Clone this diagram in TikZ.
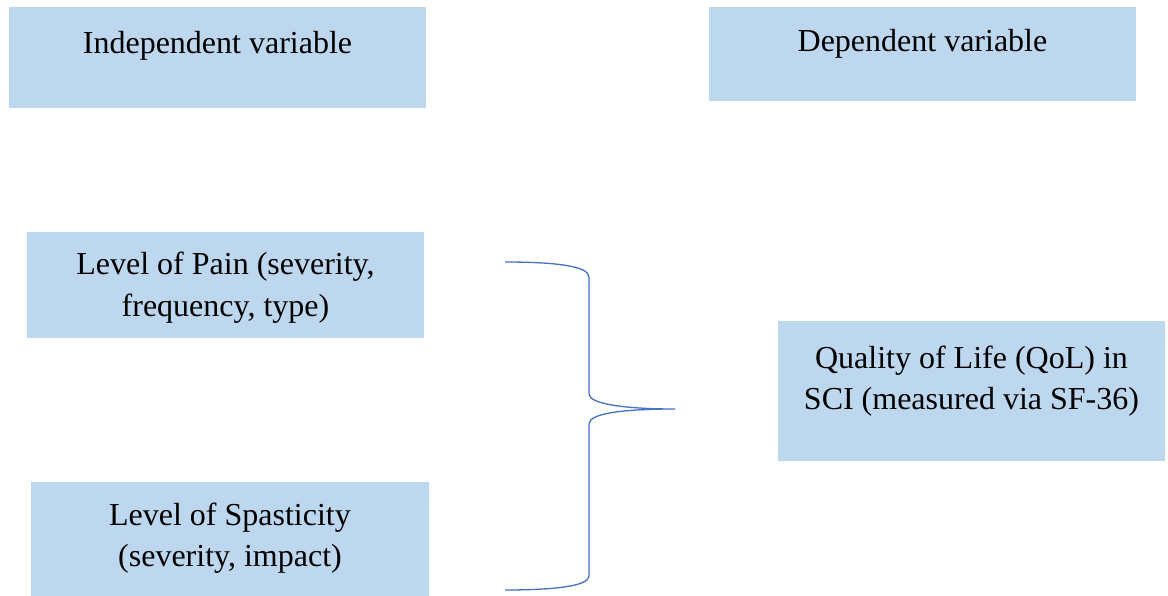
\documentclass[tikz,border=0pt]{standalone}
\usepackage{fontspec}
\setmainfont{Liberation Serif}
\definecolor{boxblue}{HTML}{BDD7EE}
\definecolor{braceblue}{HTML}{4472C4}

\begin{document}
\begin{tikzpicture}[x=1pt,y=-1pt]
\tikzset{VarStyle/.style =
		{shape = rectangle,
		fill = boxblue,
		inner sep = 0pt,
		align = flush center,
		anchor = base,
		font = \fontsize{32}{41.7}\selectfont,
		text = black},
	BraceStyle/.style =
		{draw = braceblue,
		line width = 1.3pt}}
	\useasboundingbox (0,0) rectangle (1168,596);

	% headings
	\node[VarStyle, text width=417pt, text height=47pt, text depth=54pt] (Indep) at (217.5,54) {Independent variable};
	\node[VarStyle, text width=427pt, text height=45pt, text depth=49pt] (Dep) at (922.5,52) {Dependent variable};
	% variables
	\node[VarStyle, text width=397pt, text height=43pt, text depth=63pt] (Pain) at (225.5,275) {Level of Pain (severity,\\ frequency, type)};
	\node[VarStyle, text width=398pt, text height=43pt, text depth=71pt] (Spast) at (230,525) {Level of Spasticity\\ (severity, impact)};
	\node[VarStyle, text width=387pt, text height=47pt, text depth=93pt] (QoL) at (971.5,368) {Quality of Life (QoL) in\\ SCI (measured via SF-36)};

	% brace
	\coordinate (BraceTop) at (505,262);
	\coordinate (BraceTip) at (675,409);
	\coordinate (BraceBot) at (505,590);
	\draw[BraceStyle] (BraceTop) .. controls (555,262) and (589,266) .. (589,277)
		-- (589,394) .. controls (589,404) and (625,409) .. (BraceTip)
		.. controls (625,409) and (589,413) .. (589,424)
		-- (589,576) .. controls (589,586) and (555,590) .. (BraceBot);
%	\draw[BraceStyle] (BraceTip) -- (QoL.west);
\end{tikzpicture}
\end{document}
